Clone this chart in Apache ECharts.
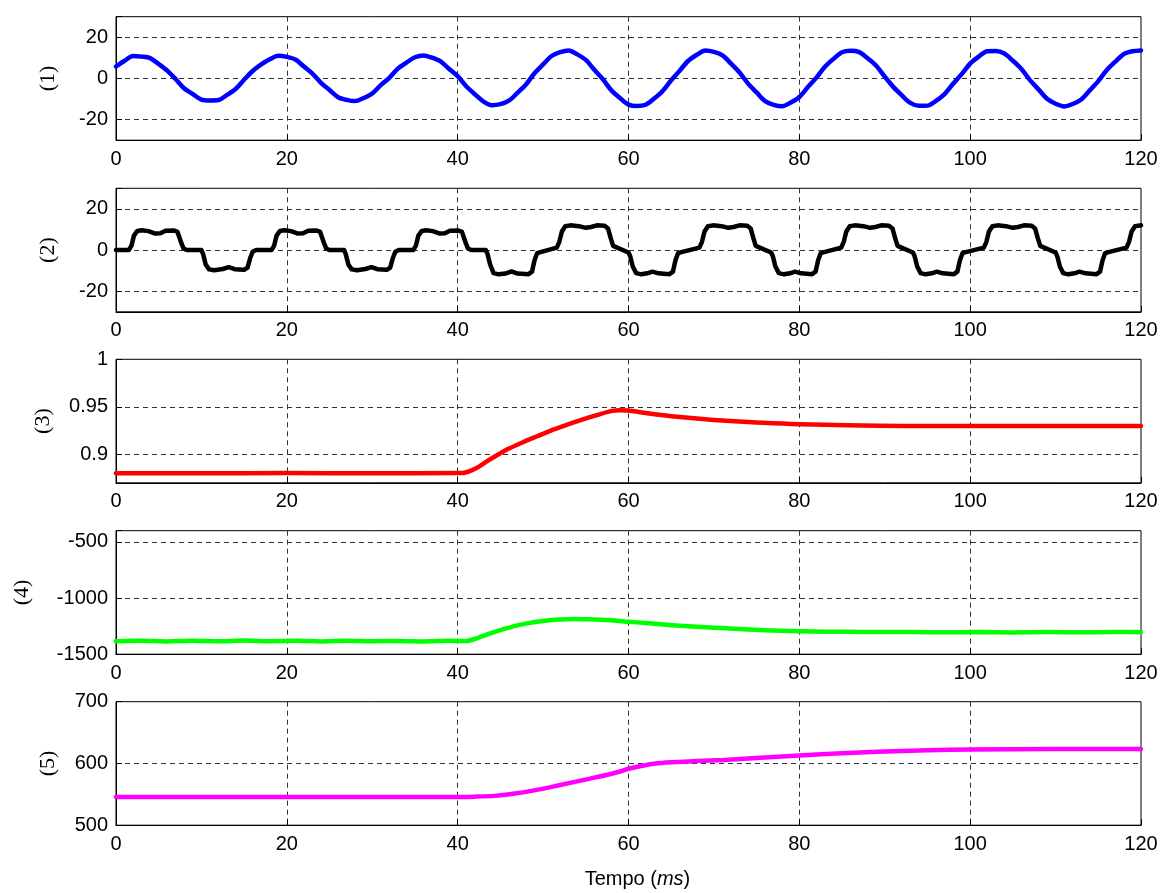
<!DOCTYPE html>
<html>
<head>
<meta charset="utf-8">
<script src="https://cdn.jsdelivr.net/npm/echarts@6/dist/echarts.min.js"></script>
<style>
html,body{margin:0;padding:0;background:#fff;}
#chart{width:1163px;height:893px;}
</style>
</head>
<body>
<div id="chart"></div>
<script>
// ---- data (time in ms) ----
const xTicks = [0, 20, 40, 60, 80, 100, 120];
const yNames = ['(1)', '(2)', '(3)', '(4)', '(5)'];
const yTicks1 = [-20, 0, 20];
const yTicks2 = [-20, 0, 20];
const yTicks3 = [0.9, 0.95, 1];
const yTicks4 = [-1500, -1000, -500];
const yTicks5 = [500, 600, 700];

const series1 = [
[0,5.8],[1,8.6],[2,10.9],[3,10.6],[4,9.9],[5,7.0],[6,3.8],[7,-0.4],[8,-4.9],[9,-7.6],[10,-10.3],
[11,-10.7],[12,-10.5],[13,-8.0],[14,-5.1],[15,-0.6],[16,3.6],[17,6.8],[18,9.3],[19,11.0],[20,10.5],
[21,9.2],[22,5.8],[23,2.4],[24,-2.1],[25,-5.6],[26,-9.1],[27,-10.4],[28,-11.0],[29,-9.5],[30,-7.3],
[31,-3.2],[32,0.3],[33,4.8],[34,7.7],[35,10.3],[36,11.2],[37,10.1],[38,8.3],[39,4.6],[40,1.1],
[41,-3.8],[42,-7.6],[43,-11.1],[44,-13.0],[45,-12.5],[46,-10.8],[47,-7.0],[48,-2.9],[49,2.5],[50,6.8],
[51,10.9],[52,12.8],[53,13.6],[54,11.7],[55,9.0],[56,4.2],[57,-0.4],[58,-5.8],[59,-9.5],[60,-12.7],
[61,-13.4],[62,-12.8],[63,-9.8],[64,-6.1],[65,-0.9],[66,3.8],[67,8.6],[68,11.5],[69,13.6],[70,12.9],
[71,11.2],[72,7.2],[73,2.9],[74,-2.5],[75,-6.8],[76,-11.0],[77,-12.8],[78,-13.5],[79,-11.7],[80,-9.0],
[81,-4.2],[82,0.4],[83,5.7],[84,9.5],[85,12.7],[86,13.4],[87,12.8],[88,9.8],[89,6.2],[90,0.9],
[91,-4.1],[92,-8.2],[93,-11.9],[94,-13.3],[95,-13.2],[96,-10.9],[97,-7.6],[98,-2.6],[99,2.1],[100,7.2],
[101,10.6],[102,13.2],[103,13.3],[104,12.1],[105,8.6],[106,4.6],[107,-0.8],[108,-5.3],[109,-9.9],[110,-12.3],
[111,-13.6],[112,-12.4],[113,-10.2],[114,-5.8],[115,-1.3],[116,4.1],[117,8.2],[118,11.9],[119,13.2],[120,13.6]
];

const series2 = [
[0,0],[1.5,0],[1.8,2],[2.1,7],[2.5,9.3],[3.0,9.6],[3.8,9.2],[4.6,8.0],[5.2,8.2],[5.8,9.4],[6.8,9.5],[7.2,8.8],[7.6,4],[7.9,0.8],[8.3,0],
[10.0,0],[10.2,-2],[10.5,-7],[10.9,-9.4],[11.5,-9.8],[12.5,-9.2],[13.2,-8.3],[13.9,-9.3],[15.0,-9.6],[15.4,-8.5],[15.7,-4],[16.0,-0.8],[16.4,0],
[18.2,0],[18.5,2],[18.8,7],[19.2,9.3],[19.7,9.6],[20.5,9.2],[21.3,8.0],[21.9,8.2],[22.5,9.4],[23.5,9.5],[23.9,8.8],[24.3,4],[24.6,0.8],[25.0,0],
[26.7,0],[26.9,-2],[27.2,-7],[27.6,-9.4],[28.2,-9.8],[29.2,-9.2],[29.9,-8.3],[30.6,-9.3],[31.7,-9.6],[32.1,-8.5],[32.4,-4],[32.7,-0.8],[33.1,0],
[34.8,0],[35.1,2],[35.4,7],[35.8,9.3],[36.3,9.6],[37.1,9.2],[37.9,8.0],[38.5,8.2],[39.1,9.4],[40.1,9.5],[40.5,8.8],[40.9,4],[41.2,0.8],[41.6,0],
[43.3,0],[43.5,-2],[43.8,-7],[44.2,-11.2],[44.8,-11.8],[45.6,-11.4],[46.3,-10.4],[47.0,-11.4],[48.3,-11.7],[48.7,-10.5],[49.0,-5],[49.3,-1.5],[49.7,-1.0],
[51.6,1.2],[51.9,4],[52.2,9],[52.6,11.6],[53.2,12.0],[54.2,11.6],[55.0,10.8],[55.6,11.2],[56.3,12.0],[57.2,11.8],[57.6,10.5],[57.9,6],[58.2,2],[58.6,1.3],
[60.0,-1.2],[60.2,-3],[60.5,-8],[60.9,-11.2],[61.5,-11.8],[62.2,-11.3],[62.8,-10.5],[63.5,-11.3],[64.8,-11.7],[65.2,-10.5],[65.5,-5],[65.8,-1.5],[66.2,-1.0],
[68.3,1.2],[68.6,4],[68.9,9],[69.3,11.6],[69.9,12.0],[70.9,11.6],[71.7,10.8],[72.3,11.2],[73.0,12.0],[73.9,11.8],[74.3,10.5],[74.6,6],[74.9,2],[75.3,1.3],
[76.7,-1.2],[76.9,-3],[77.2,-8],[77.6,-11.2],[78.2,-11.8],[78.9,-11.3],[79.5,-10.5],[80.2,-11.3],[81.5,-11.7],[81.9,-10.5],[82.2,-5],[82.5,-1.5],[82.9,-1.0],
[84.9,1.2],[85.2,4],[85.5,9],[85.9,11.6],[86.5,12.0],[87.5,11.6],[88.3,10.8],[88.9,11.2],[89.6,12.0],[90.5,11.8],[90.9,10.5],[91.2,6],[91.5,2],[91.9,1.3],
[93.3,-1.2],[93.5,-3],[93.8,-8],[94.2,-11.2],[94.8,-11.8],[95.5,-11.3],[96.1,-10.5],[96.8,-11.3],[98.1,-11.7],[98.5,-10.5],[98.8,-5],[99.1,-1.5],[99.5,-1.0],
[101.6,1.2],[101.9,4],[102.2,9],[102.6,11.6],[103.2,12.0],[104.2,11.6],[105.0,10.8],[105.6,11.2],[106.3,12.0],[107.2,11.8],[107.6,10.5],[107.9,6],[108.2,2],[108.6,1.3],
[110.0,-1.2],[110.2,-3],[110.5,-8],[110.9,-11.2],[111.5,-11.8],[112.2,-11.3],[112.8,-10.5],[113.5,-11.3],[114.8,-11.7],[115.2,-10.5],[115.5,-5],[115.8,-1.5],[116.2,-1.0],
[118.3,1.2],[118.6,4],[118.9,9],[119.3,11.6],[120,12.0]
];

const series3 = [
[0,0.880],[10,0.8801],[20,0.8802],[30,0.8801],[40,0.8802],[40.8,0.8805],[41.5,0.8825],[42.5,0.887],[43.5,0.893],
[44.6,0.899],[46,0.906],[47.7,0.913],[49.3,0.919],[50.9,0.925],[52.6,0.9305],[54.4,0.936],[56.2,0.941],[57.9,0.9455],
[59.0,0.9465],[60.0,0.946],[62,0.9435],[64.1,0.941],[66,0.9392],[68,0.9377],[70,0.9362],[71.9,0.935],[74,0.934],
[75.8,0.9331],[78,0.9323],[80.1,0.9317],[83,0.9311],[85.5,0.9307],[89.4,0.930],[95,0.9299],[100,0.9299],[110,0.9298],[120,0.9298]
];

const series4 = [
[0,-1384],[3,-1380],[6,-1386],[9,-1381],[12,-1385],[15,-1379],[18,-1384],[21,-1381],[24,-1386],[27,-1380],
[30,-1384],[33,-1382],[36,-1386],[39,-1380],[41,-1383],[42.2,-1360],[43.4,-1325],[45,-1285],[46.5,-1252],[48,-1228],
[49.3,-1211],[50.7,-1198],[52,-1190],[53.6,-1187],[55.2,-1189],[56.8,-1193],[58.3,-1199],[60,-1211],[62,-1222],[64.1,-1235],
[66,-1247],[68,-1256],[70,-1264],[71.9,-1271],[74,-1280],[75.8,-1286],[78,-1291],[80.1,-1295],[83,-1299],[85.5,-1301],
[89.4,-1303],[93,-1302],[97,-1305],[101,-1302],[105,-1306],[109,-1303],[113,-1305],[117,-1302],[120,-1304]
];

const series5 = [
[0,545.5],[10,545.5],[20,545.8],[30,545.6],[40,545.5],[42,546.2],[44.3,547.5],[46.5,551],[48.8,556],[51,562],
[53.3,569],[55.5,575.5],[57.8,582.5],[59,587],[60,591.5],[61.5,596],[63,599.5],[65,601.8],[68,603.8],[71.2,605.5],
[75,609],[80,613],[85,616.5],[89.1,619],[95,621.5],[100,622.6],[110,623.3],[120,623.6]
];

const seriesData = [series1, series2, series3, series4, series5];
const colors = ['#0000ff', '#000000', '#ff0000', '#00ff00', '#ff00ff'];
const smoothing = [0.3, 0, 0.2, 0.2, 0.2];
const yTickLists = [yTicks1, yTicks2, yTicks3, yTicks4, yTicks5];
const yRanges = [[-30, 30, 20], [-30, 30, 20], [0.87, 1, 0.05], [-1500, -400, 500], [500, 700, 100]];

// ---- layout ----
const gridTops = [16.7, 188.3, 359.3, 530.7, 701.7];
const gridH = 123.5;
const nameGaps = [57, 57, 62, 83, 57];
const sans = 'Liberation Sans';
const serif = 'Liberation Serif';

const grids = [], xAxes = [], yAxes = [], series = [];
for (let i = 0; i < 5; i++) {
  grids.push({left: 116, right: 22, top: gridTops[i], height: gridH, show: true,
    borderColor: '#000', borderWidth: 1, backgroundColor: '#fff'});
  const xa = {
    type: 'value', gridIndex: i, min: 0, max: 120, interval: 20,
    axisLine: {show: true, onZero: false, lineStyle: {color: '#000', width: 1}},
    axisTick: {show: true, inside: true, length: 6, lineStyle: {color: '#000'}},
    axisLabel: {color: '#000', fontFamily: sans, fontSize: 20, margin: 9,
      formatter: v => xTicks.indexOf(Math.round(v)) >= 0 ? String(Math.round(v)) : ''},
    splitLine: {show: true, showMinLine: false, showMaxLine: false,
      lineStyle: {color: '#333', width: 1, type: [5, 4]}}
  };
  if (i === 4) {
    xa.name = '{a|Tempo (}{b|ms}{a|)}';
    xa.nameLocation = 'middle';
    xa.nameGap = 44;
    xa.nameTextStyle = {padding: [0, 0, 0, 18], rich: {
      a: {fontFamily: sans, fontSize: 20, color: '#000'},
      b: {fontFamily: sans, fontSize: 20, fontStyle: 'italic', color: '#000'}}};
  }
  xAxes.push(xa);
  const r = yRanges[i];
  const ticks = yTickLists[i];
  yAxes.push({
    type: 'value', gridIndex: i, min: r[0], max: r[1], minInterval: r[2], maxInterval: r[2],
    name: yNames[i], nameLocation: 'middle', nameRotate: 90, nameGap: nameGaps[i],
    nameTextStyle: {fontFamily: serif, fontSize: 22, color: '#000'},
    axisLine: {show: true, onZero: false, lineStyle: {color: '#000', width: 1}},
    axisTick: {show: true, inside: true, length: 6, lineStyle: {color: '#000'}},
    axisLabel: {color: '#000', fontFamily: sans, fontSize: 20, margin: 8,
      formatter: v => {
        for (const t of ticks) { if (Math.abs(v - t) < 1e-6) return String(t); }
        return '';
      }},
    splitLine: {show: true, showMinLine: false, showMaxLine: false,
      lineStyle: {color: '#333', width: 1, type: [5, 4]}}
  });
  series.push({
    type: 'line', xAxisIndex: i, yAxisIndex: i, data: seriesData[i],
    showSymbol: false, symbol: 'none', animation: false,
    smooth: smoothing[i] || false,
    lineStyle: {color: colors[i], width: 4.5, cap: 'round', join: 'round'},
    clip: true
  });
}

const chart = echarts.init(document.getElementById('chart'), null, {renderer: 'canvas'});
chart.setOption({
  backgroundColor: '#fff',
  animation: false,
  grid: grids, xAxis: xAxes, yAxis: yAxes, series: series
});
</script>
</body>
</html>
